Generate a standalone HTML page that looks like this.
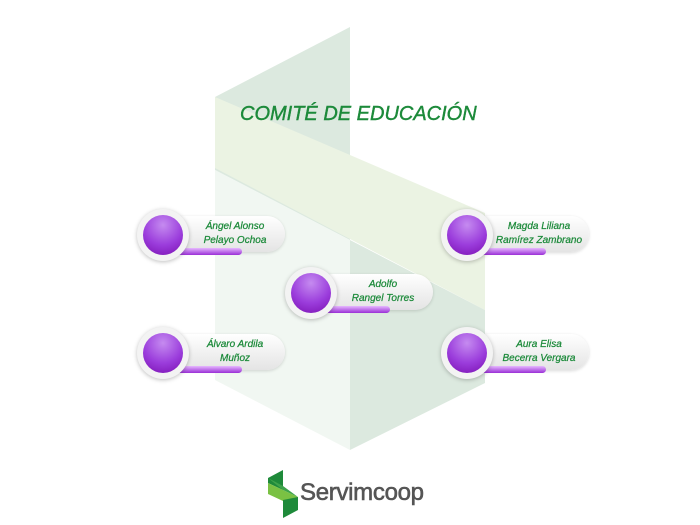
<!DOCTYPE html>
<html><head><meta charset="utf-8"><style>
body{margin:0;width:700px;height:525px;background:#fff;position:relative;overflow:hidden;font-family:"Liberation Sans","DejaVu Sans",sans-serif}
.t{position:absolute;left:240px;top:103px;font-size:20px;font-style:italic;color:#1c8a3a;white-space:nowrap;transform:scaleX(1.0);transform-origin:left;-webkit-text-stroke:0.4px #1c8a3a}
.n{position:absolute;width:160px;height:60px}
.pill{position:absolute;left:30px;top:4px;width:118px;height:36px;border-radius:18px;background:linear-gradient(#ffffff,#e4e4e4);box-shadow:0 1px 3px rgba(0,0,0,.15)}
.bar{position:absolute;left:30px;top:36px;width:75px;height:7px;border-radius:0 4px 4px 0;background:linear-gradient(#e6b8ff,#9a2fd6)}
.c{position:absolute;left:0;top:-3px;width:52px;height:52px;border-radius:50%;background:#f3f3f3;box-shadow:0 1px 4px rgba(0,0,0,.25)}
.c:after{content:"";position:absolute;left:6px;top:6px;width:40px;height:40px;border-radius:50%;background:radial-gradient(circle at 50% 25%,#c58bf0 0%,#9b3ddc 55%,#7a0fb0 100%)}
.l{position:absolute;left:48px;top:8px;width:100px;text-align:center;font-size:10px;font-style:italic;color:#1c8a3a;line-height:14px;-webkit-text-stroke:0.25px #1c8a3a}
.logo{position:absolute;left:300px;top:479px;font-size:24px;color:#555;letter-spacing:-0.3px;-webkit-text-stroke:0.6px #555}
</style></head><body>
<svg width="700" height="525" style="position:absolute;left:0;top:0">
<polygon points="215,97 350,27 350,240 215,170" fill="#dce9df"/>
<polygon points="215,170 350,240 350,450 215,380" fill="#eef5ef" opacity="0.8"/>
<polygon points="215,97 485,213 485,310 215,168" fill="#ebf3e3"/>
<polygon points="350,240 485,310 485,383 350,450" fill="#dce9df"/>
<polygon points="268,478 283,470 283,490 268,483" fill="#1e8a3a"/>
<polygon points="268,483 298,497 298,508 268,494" fill="#7ac143"/>
<polygon points="283,500 298,497 298,510 283,518" fill="#1e8a3a"/>
<polygon points="268,478 283,486 298,497 283,490" fill="#3ea34a"/>
</svg>
<div class="t">COMITÉ DE EDUCACIÓN</div>
<div class="n" style="left:137px;top:212px"><div class="pill"></div><div class="bar"></div><div class="c"></div><div class="l">Ángel Alonso<br>Pelayo Ochoa</div></div>
<div class="n" style="left:441px;top:212px"><div class="pill"></div><div class="bar"></div><div class="c"></div><div class="l">Magda Liliana<br>Ramírez Zambrano</div></div>
<div class="n" style="left:285px;top:270px"><div class="pill"></div><div class="bar"></div><div class="c"></div><div class="l">Adolfo<br>Rangel Torres</div></div>
<div class="n" style="left:137px;top:330px"><div class="pill"></div><div class="bar"></div><div class="c"></div><div class="l">Álvaro Ardila<br>Muñoz</div></div>
<div class="n" style="left:441px;top:330px"><div class="pill"></div><div class="bar"></div><div class="c"></div><div class="l">Aura Elisa<br>Becerra Vergara</div></div>
<div class="logo">Servimcoop</div>
</body></html>
